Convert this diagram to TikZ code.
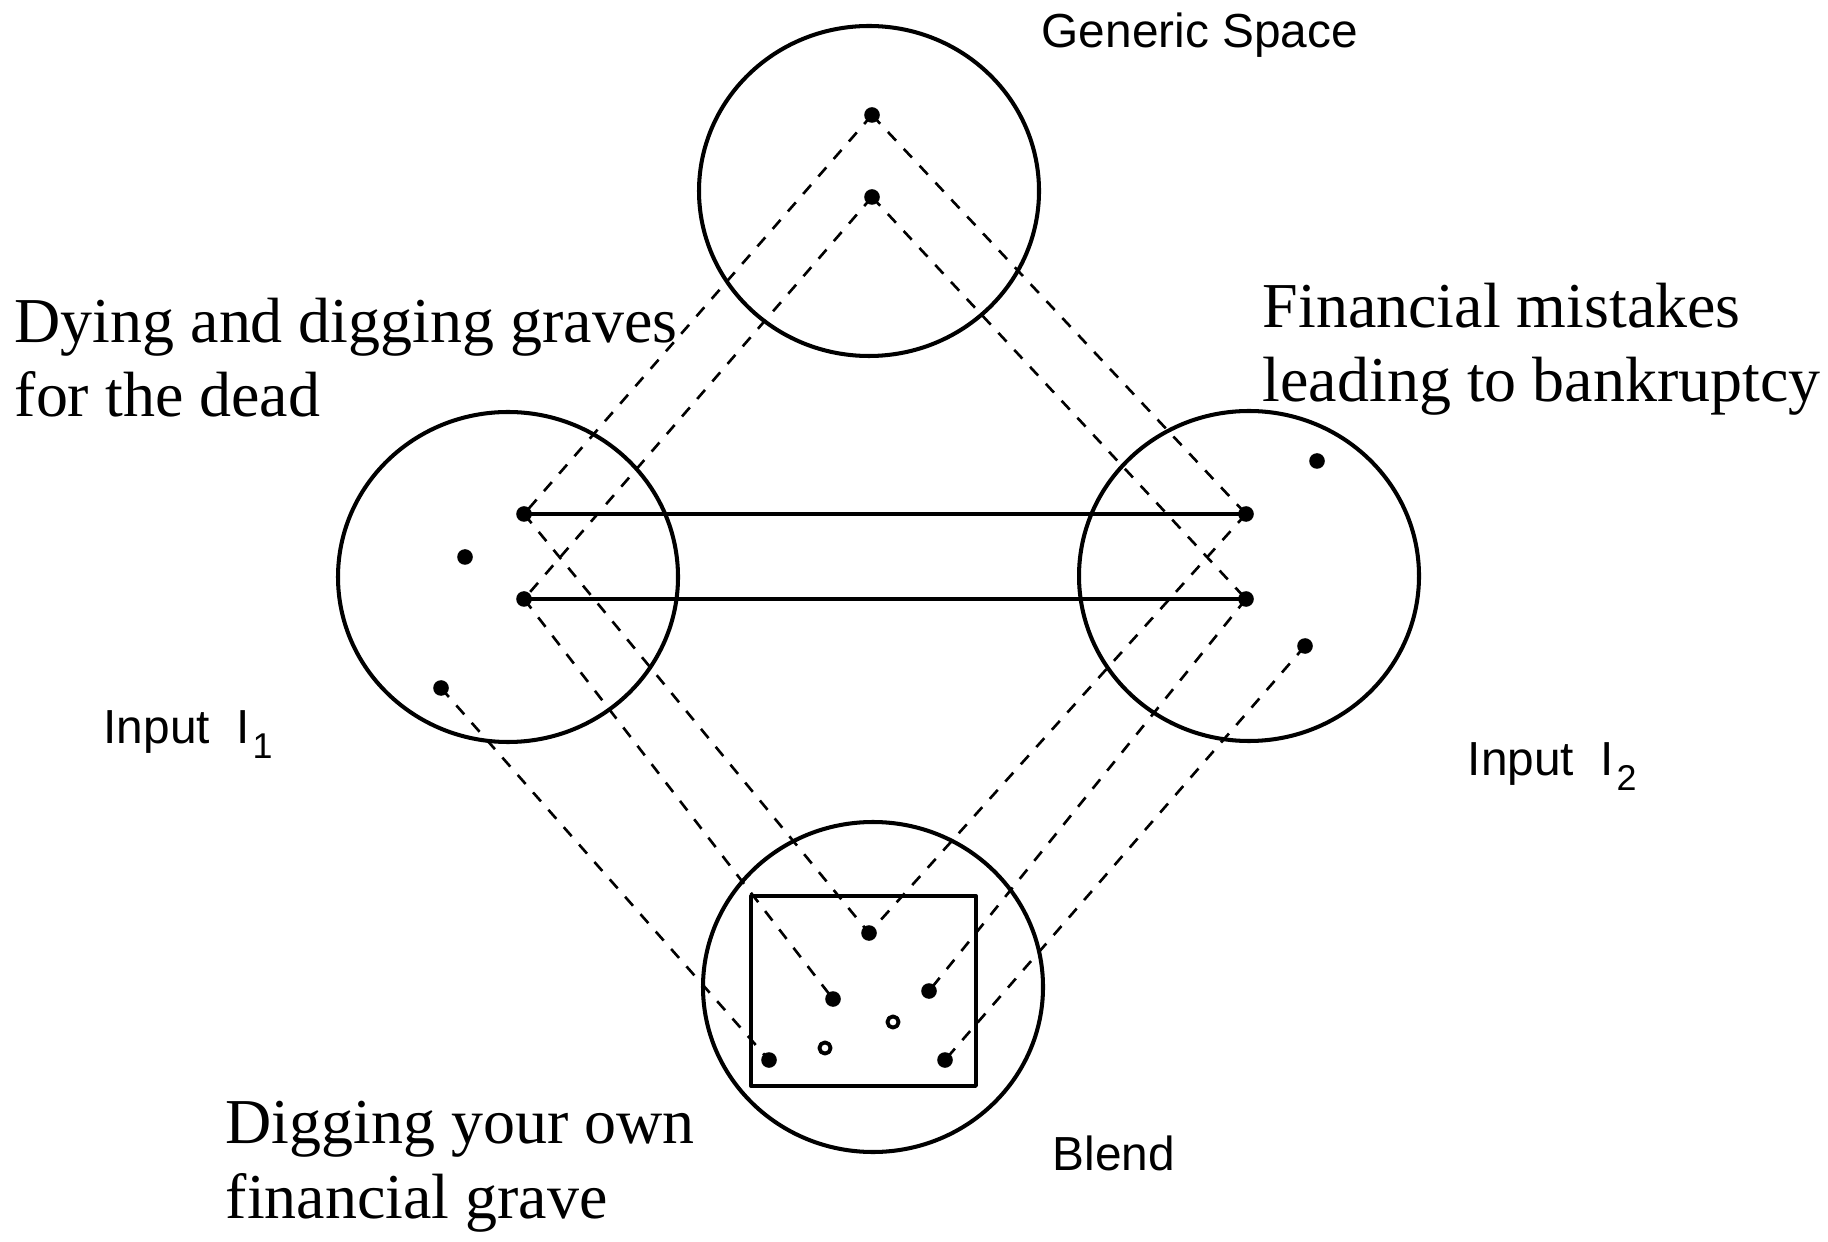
\documentclass[tikz,border=0pt]{standalone}
\usepackage{fontspec}
\setmainfont{Liberation Serif}
\setsansfont{Liberation Sans}
\usetikzlibrary{calc}

\begin{document}
\begin{tikzpicture}[line join=round,
    space/.style={line width=1.15pt},
    link/.style={line width=0.95pt},
    proj/.style={line width=0.75pt, dash pattern=on 3.4pt off 3.2pt},
    caption/.style={font=\fontsize{18.2}{21.2}\selectfont, align=left, inner sep=0pt, anchor=base west},
    tag/.style={font=\sffamily\fontsize{13.6}{15}\selectfont, inner sep=0pt, anchor=base west}]
    \useasboundingbox (0,0) rectangle (18.28,12.41);
    % spaces
    \coordinate (G) at (8.69,10.50);
    \coordinate (L) at (5.08,6.64);
    \coordinate (R) at (12.49,6.65);
    \coordinate (B) at (8.73,2.54);
    \foreach \s in {G,L,R,B} {
        \draw[space] (\s) ellipse (1.70 and 1.65);
    }
    \draw[link] (7.51,1.55) rectangle (9.76,3.45);
    % elements
    \coordinate (g1) at (8.72,11.26);
    \coordinate (g2) at (8.72,10.44);
    \coordinate (a1) at (5.24,7.27);
    \coordinate (a2) at (5.24,6.42);
    \coordinate (a3) at (4.65,6.84);
    \coordinate (a4) at (4.41,5.53);
    \coordinate (b1) at (12.46,7.27);
    \coordinate (b2) at (12.46,6.42);
    \coordinate (b3) at (13.17,7.80);
    \coordinate (b4) at (13.05,5.95);
    \coordinate (c1) at (8.69,3.08);
    \coordinate (c2) at (8.33,2.42);
    \coordinate (c3) at (9.29,2.50);
    \coordinate (c4) at (7.69,1.81);
    \coordinate (c5) at (9.45,1.81);
    \coordinate (o1) at (8.93,2.19);
    \coordinate (o2) at (8.25,1.93);
    % cross-space mapping
    \draw[link] (a1) -- (b1);
    \draw[link] (a2) -- (b2);
    % projections
    \foreach \p/\q in {g1/a1,g2/a2,g1/b1,g2/b2,a1/c1,b1/c1,a2/c2,b2/c3,a4/c4,b4/c5} {
        \draw[proj] (\p) -- (\q);
    }
    \foreach \p in {g1,g2,a1,a2,a3,a4,b1,b2,b3,b4,c1,c2,c3,c4,c5} {
        \fill (\p) circle (0.078);
    }
    \foreach \p in {o1,o2} {
        \draw[line width=1.1pt,fill=white] (\p) circle (0.056);
    }
    % labels
    \node[tag] (generic) at (10.41,11.93) {Generic Space};
    \node[tag] (input1) at (1.03,4.98) {Input\ \ I\kern0.8pt\raisebox{-0.33em}{\fontsize{10.2}{11}\selectfont 1}};
    \node[tag] (input2) at (14.67,4.66) {Input\ \ I\kern0.8pt\raisebox{-0.33em}{\fontsize{10.2}{11}\selectfont 2}};
    \node[tag] (blend) at (10.52,0.71) {Blend};
    \node[caption] (dying) at (0.14,8.24) {Dying and digging graves\\for the dead};
    \node[caption] (mistakes) at (12.62,8.39) {Financial mistakes\\leading to bankruptcy};
    \node[caption] (digging) at (2.25,0.23) {Digging your own\\financial grave};
\end{tikzpicture}
\end{document}
